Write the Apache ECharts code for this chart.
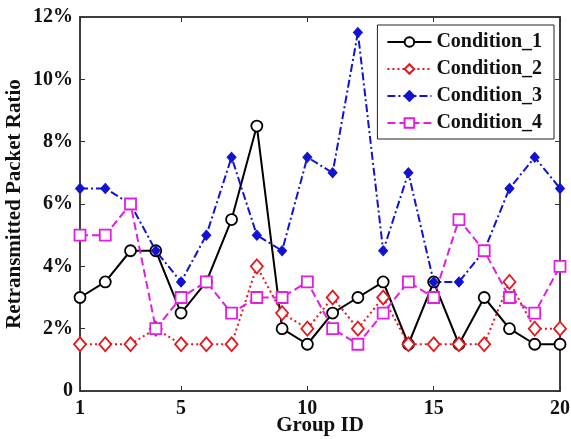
<!DOCTYPE html>
<html>
<head>
<meta charset="utf-8">
<script src="https://cdn.jsdelivr.net/npm/echarts@6/dist/echarts.min.js"></script>
<style>
  html, body { margin: 0; padding: 0; background: #fff; }
  #chart { width: 571px; height: 439px; }
</style>
</head>
<body>
<div id="chart"></div>
<script>
  // group ids 1..20
  var groupIds = [1, 2, 3, 4, 5, 6, 7, 8, 9, 10, 11, 12, 13, 14, 15, 16, 17, 18, 19, 20];
  var xTickValues = [1, 5, 10, 15, 20];

  var condition1 = [3, 3.5, 4.5, 4.5, 2.5, 3.5, 5.5, 8.5, 2, 1.5, 2.5, 3, 3.5, 1.5, 3.5, 1.5, 3, 2, 1.5, 1.5];
  var condition2 = [1.5, 1.5, 1.5, 2, 1.5, 1.5, 1.5, 4, 2.5, 2, 3, 2, 3, 1.5, 1.5, 1.5, 1.5, 3.5, 2, 2];
  var condition3 = [6.5, 6.5, 6, 4.5, 3.5, 5, 7.5, 5, 4.5, 7.5, 7, 11.5, 4.5, 7, 3.5, 3.5, 4.5, 6.5, 7.5, 6.5];
  var condition4 = [5, 5, 6, 2, 3, 3.5, 2.5, 3, 3, 3.5, 2, 1.5, 2.5, 3.5, 3, 5.5, 4.5, 3, 2.5, 4];

  var seriesNames = ['Condition_1', 'Condition_2', 'Condition_3', 'Condition_4'];

  function pairs(vals) {
    return groupIds.map(function (g, i) { return [g, vals[i]]; });
  }

  var font = 'Liberation Serif';
  var chart = echarts.init(document.getElementById('chart'));

  var axisLine = { show: true, onZero: false, lineStyle: { color: '#333', width: 1.5 } };
  var xTick = { show: true, inside: true, length: 5, customValues: xTickValues, lineStyle: { color: '#333' } };
  var yTick = { show: true, inside: true, length: 5, lineStyle: { color: '#333' } };

  chart.setOption({
    animation: false,
    backgroundColor: '#fff',
    grid: {
      left: 80, right: 11, top: 17, bottom: 48,
      outerBoundsMode: 'none', containLabel: false,
      show: true, borderColor: '#333', borderWidth: 1.5, backgroundColor: 'transparent'
    },
    legend: {
      right: 17,
      top: 25,
      orient: 'vertical',
      data: seriesNames,
      backgroundColor: '#fff',
      borderColor: '#222',
      borderWidth: 1,
      padding: [7, 12, 6, 9],
      itemGap: 7,
      itemWidth: 44,
      itemHeight: 12,
      textStyle: { fontFamily: font, fontWeight: 'bold', fontSize: 20, lineHeight: 20, color: '#111' }
    },
    xAxis: [
      {
        type: 'value', min: 1, max: 20,
        name: 'Group ID', nameLocation: 'middle', nameGap: 24, nameMoveOverlap: false,
        nameTextStyle: { fontFamily: font, fontWeight: 'bold', fontSize: 21, color: '#111' },
        axisLine: axisLine, axisTick: xTick, splitLine: { show: false },
        axisLabel: { customValues: xTickValues, fontFamily: font, fontWeight: 'bold', fontSize: 20, color: '#111', margin: 8 }
      },
      {
        type: 'value', min: 1, max: 20, position: 'top',
        axisLine: axisLine, axisTick: xTick, splitLine: { show: false },
        axisLabel: { show: false }
      }
    ],
    yAxis: [
      {
        type: 'value', min: 0, max: 12, interval: 2,
        name: 'Retransmitted Packet Ratio', nameLocation: 'middle', nameGap: 55, nameMoveOverlap: false,
        nameTextStyle: { fontFamily: font, fontWeight: 'bold', fontSize: 21, color: '#111' },
        axisLine: axisLine, axisTick: yTick, splitLine: { show: false },
        axisLabel: {
          fontFamily: font, fontWeight: 'bold', fontSize: 20, color: '#111', margin: 7,
          formatter: function (v) { return v === 0 ? '0' : v + '%'; }
        }
      },
      {
        type: 'value', min: 0, max: 12, interval: 2, position: 'right',
        axisLine: axisLine, axisTick: yTick, splitLine: { show: false },
        axisLabel: { show: false }
      }
    ],
    series: [
      {
        name: seriesNames[0], type: 'line', data: pairs(condition1),
        symbol: 'circle', symbolSize: 11,
        lineStyle: { color: '#000', width: 2, type: 'solid' },
        itemStyle: { color: '#fff', borderColor: '#000', borderWidth: 1.8 }
      },
      {
        name: seriesNames[1], type: 'line', data: pairs(condition2),
        symbol: 'diamond', symbolSize: [12, 14],
        lineStyle: { color: '#e4181c', width: 2, type: [2, 3] },
        itemStyle: { color: '#fff', borderColor: '#e4181c', borderWidth: 1.8 }
      },
      {
        name: seriesNames[2], type: 'line', data: pairs(condition3),
        symbol: 'diamond', symbolSize: [9, 10],
        lineStyle: { color: '#1212d2', width: 2, type: [8, 3, 2, 3] },
        itemStyle: { color: '#1212d2', borderColor: '#1212d2', borderWidth: 1 }
      },
      {
        name: seriesNames[3], type: 'line', data: pairs(condition4),
        symbol: 'rect', symbolSize: 11,
        lineStyle: { color: '#e01fe0', width: 2, type: [8, 4] },
        itemStyle: { color: '#fff', borderColor: '#e01fe0', borderWidth: 1.8 }
      }
    ]
  });
</script>
</body>
</html>
